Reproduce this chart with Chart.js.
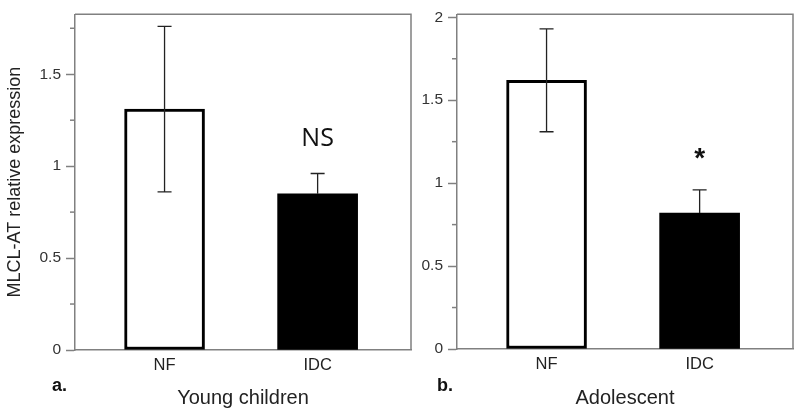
<!DOCTYPE html>
<html>
<head>
<meta charset="utf-8">
<script src="https://cdn.jsdelivr.net/npm/chart.js@4"></script>
<style>
  html, body { margin: 0; padding: 0; background: #fff; }
  #wrap { position: relative; width: 800px; height: 412px; overflow: hidden; }
  #wrapA { position: absolute; left: 0; top: 0; width: 413px; height: 412px; }
  #wrapB { position: absolute; left: 413px; top: 0; width: 387px; height: 412px; }
</style>
</head>
<body>
<div id="wrap">
  <div id="wrapA"><canvas id="youngChart"></canvas></div>
  <div id="wrapB"><canvas id="adolChart"></canvas></div>
</div>
<script>
// data
const categories = ['NF', 'IDC'];
const youngMeans = [1.31, 0.85];
const youngErrors = [0.45, 0.11];
const adolMeans = [1.62, 0.82];
const adolErrors = [0.31, 0.14];
const youngTicks = [0, 0.5, 1, 1.5];
const youngMinorTicks = [0.25, 0.75, 1.25, 1.75];
const adolTicks = [0, 0.5, 1, 1.5, 2];
const adolMinorTicks = [0.25, 0.75, 1.25, 1.75];
const youngMarks = ['', 'NS'];
const adolMarks = ['', '*'];

const axisGrey = '#808080';
const barFills = ['#ffffff', '#000000'];
const labelFont = 'Liberation Sans, Arial, sans-serif';

// error bars, minor ticks, frame, significance marks, panel letter
const extrasPlugin = {
  id: 'extras',
  afterDatasetsDraw(chart, args, opts) {
    const ctx = chart.ctx;
    const x = chart.scales.x;
    const y = chart.scales.y;
    const area = chart.chartArea;
    ctx.save();

    // top + right side of the box
    ctx.strokeStyle = axisGrey;
    ctx.lineWidth = 1.5;
    ctx.beginPath();
    ctx.moveTo(area.left, area.top);
    ctx.lineTo(area.right, area.top);
    ctx.lineTo(area.right, area.bottom);
    ctx.stroke();

    // minor ticks
    opts.minor.forEach(function (v) {
      const py = y.getPixelForValue(v);
      ctx.beginPath();
      ctx.moveTo(area.left - 5, py);
      ctx.lineTo(area.left, py);
      ctx.stroke();
    });

    // error bars (lower half only shows on the open bar)
    ctx.strokeStyle = '#222';
    ctx.lineWidth = 1.3;
    opts.means.forEach(function (m, i) {
      const px = x.getPixelForValue(i);
      const mid = y.getPixelForValue(m);
      const top = y.getPixelForValue(m + opts.errors[i]);
      const bot = y.getPixelForValue(m - opts.errors[i]);
      ctx.beginPath();
      ctx.moveTo(px, top);
      ctx.lineTo(px, mid);
      ctx.moveTo(px - 7, top);
      ctx.lineTo(px + 7, top);
      if (barFills[i] === '#ffffff') {
        ctx.moveTo(px, mid);
        ctx.lineTo(px, bot);
        ctx.moveTo(px - 7, bot);
        ctx.lineTo(px + 7, bot);
      }
      ctx.stroke();

      const mark = opts.marks[i];
      if (mark) {
        ctx.fillStyle = '#111';
        ctx.textAlign = 'center';
        ctx.textBaseline = 'middle';
        if (mark === '*') {
          ctx.font = 'bold 28px ' + labelFont;
          ctx.fillText(mark, px, top - 30);
        } else {
          ctx.font = '25px "Open Sans", sans-serif';
          ctx.fillText(mark, px, top - 35);
        }
      }
    });

    // panel letter
    ctx.fillStyle = '#111';
    ctx.font = 'bold 18px ' + labelFont;
    ctx.textAlign = 'left';
    ctx.textBaseline = 'middle';
    ctx.fillText(opts.letter, opts.letterX, 386);
    ctx.restore();
  }
};

function makePanel(canvasId, means, errors, ticks, minor, marks, opt) {
  return new Chart(document.getElementById(canvasId), {
    type: 'bar',
    data: {
      datasets: [{
        data: means.map(function (v, i) { return { x: i, y: v }; }),
        backgroundColor: barFills,
        borderColor: '#000000',
        borderWidth: [3, 0],
        borderSkipped: false,
        barThickness: 80
      }]
    },
    options: {
      responsive: true,
      maintainAspectRatio: false,
      animation: false,
      layout: { padding: { top: opt.top, right: opt.right, left: 0, bottom: 0 } },
      plugins: {
        legend: { display: false },
        tooltip: { enabled: false },
        extras: { means: means, errors: errors, minor: minor, marks: marks, letter: opt.letter, letterX: opt.letterX }
      },
      scales: {
        x: {
          type: 'linear',
          offset: false,
          min: -0.585,
          max: 1.61,
          afterBuildTicks: function (scale) {
            scale.ticks = categories.map(function (c, i) { return { value: i }; });
          },
          afterFit: function (scale) { scale.height = opt.xHeight; },
          grid: { offset: false, drawOnChartArea: false, drawTicks: false },
          border: { color: axisGrey, width: 1.5 },
          ticks: {
            padding: 6,
            color: '#222',
            font: { family: labelFont, size: 16.5 },
            callback: function (v) { return categories[v]; }
          },
          title: {
            display: true,
            text: opt.xTitle,
            color: '#222',
            font: { family: labelFont, size: 20 },
            padding: { top: 0, bottom: 2 }
          }
        },
        y: {
          min: 0,
          max: opt.yMax,
          afterBuildTicks: function (scale) {
            scale.ticks = ticks.map(function (v) { return { value: v }; });
          },
          afterFit: function (scale) { scale.width = opt.yWidth; },
          grid: { drawOnChartArea: false, tickLength: 9, tickColor: axisGrey, tickWidth: 1.5 },
          border: { color: axisGrey, width: 1.5 },
          ticks: {
            padding: 5,
            color: '#333',
            font: { family: labelFont, size: 15.5 },
            callback: function (v) { return String(v); }
          },
          title: {
            display: !!opt.yTitle,
            text: opt.yTitle,
            color: '#222',
            font: { family: labelFont, size: 18 },
            padding: { top: 4, bottom: 0 }
          }
        }
      }
    },
    plugins: [extrasPlugin]
  });
}

makePanel('youngChart', youngMeans, youngErrors, youngTicks, youngMinorTicks, youngMarks, {
  top: 14, right: 2, yMax: 1.826, yWidth: 75, xHeight: 62,
  xTitle: 'Young children', yTitle: 'MLCL-AT relative expression',
  letter: 'a.', letterX: 52
});

makePanel('adolChart', adolMeans, adolErrors, adolTicks, adolMinorTicks, adolMarks, {
  top: 13, right: 7, yMax: 2.018, yWidth: 44, xHeight: 63,
  xTitle: 'Adolescent', yTitle: '',
  letter: 'b.', letterX: 24
});
</script>
</body>
</html>
